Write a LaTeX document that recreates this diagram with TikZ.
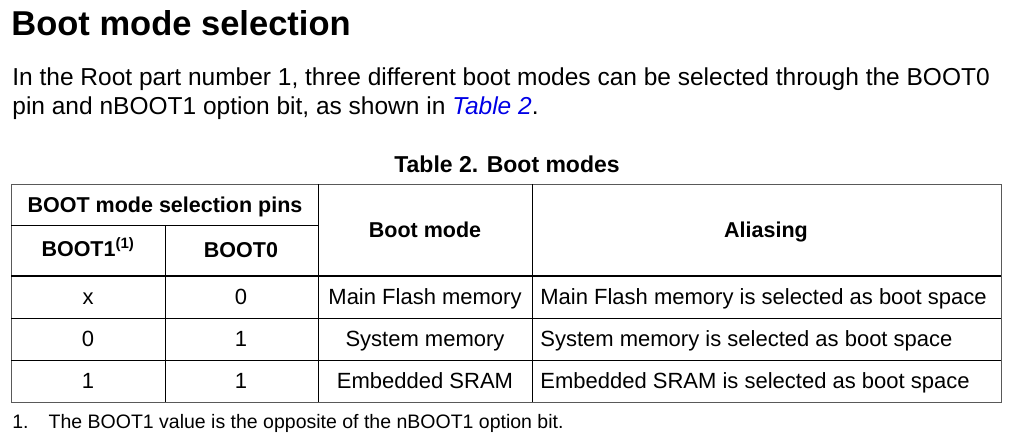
\documentclass[tikz,border=0pt]{standalone}
\usepackage{fontspec}
\setmainfont{Liberation Sans}
\usetikzlibrary{positioning}
\definecolor{linkblue}{RGB}{0,0,230}
\tikzset{
hd/.style={inner sep=0pt,anchor=base,font=\fontsize{21.5}{24}\selectfont\bfseries},
cl/.style={inner sep=0pt,anchor=base,font=\fontsize{22}{24}\selectfont},
tx/.style={inner sep=0pt,anchor=base west,font=\fontsize{24.5}{28}\selectfont}
}
\begin{document}
\begin{tikzpicture}[x=1pt,y=-1pt,line width=0.8pt]
        \useasboundingbox (0,0) rectangle (1010,437);
        \node[inner sep=0pt,anchor=base west,font=\fontsize{34.5}{38}\selectfont\bfseries] (title) at (11,35) {Boot mode selection};
        \node[tx] (p1) at (12,85) {In the Root part number 1, three different boot modes can be selected through the BOOT0};
        \node[tx] (p2) at (12,114) {pin and nBOOT1 option bit, as shown in \textcolor{linkblue}{\itshape Table 2}.};
        \node[hd,font=\fontsize{23}{26}\selectfont\bfseries] (cap) at (507,172) {Table 2. Boot modes};
        % grid
        \draw[gray!70!black] (11,184) rectangle (1001,402);
        \draw (11,225) -- (318,225);
        \draw (165,225) -- (165,402);
        \draw (318,184) -- (318,402);
        \draw (532,184) -- (532,402);
        \draw[line width=2.5pt] (11,276) -- (1001,276);
        \foreach \y in {318,360} \draw (11,\y) -- (1001,\y);
        % header
        \node[hd] (pins) at (165,212) {BOOT mode selection pins};
        \node[hd] (b1) at (88,256) {BOOT1\textsuperscript{(1)}};
        \node[hd] (b0) at (241,257) {BOOT0};
        \node[hd] (mode) at (425,237) {Boot mode};
        \node[hd] (alias) at (766,237) {Aliasing};
        % rows
        \foreach \a/\b/\m/\s [count=\i] in {x/0/Main Flash memory/Main Flash memory,0/1/System memory/System memory,1/1/Embedded SRAM/Embedded SRAM}{
          \node[cl] (r\i a) at (88,262+42*\i) {\a};
          \node[cl] (r\i b) at (241,262+42*\i) {\b};
          \node[cl] (r\i m) at (425,262+42*\i) {\m};
          \node[cl,anchor=base west] (r\i s) at (540,262+42*\i) {\s\ is selected as boot space};
        }
        \node[inner sep=0pt,anchor=base west,font=\fontsize{19.5}{22}\selectfont] (fn) at (12,428) {1.\hspace{20pt}The BOOT1 value is the opposite of the nBOOT1 option bit.};
\end{tikzpicture}
\end{document}
